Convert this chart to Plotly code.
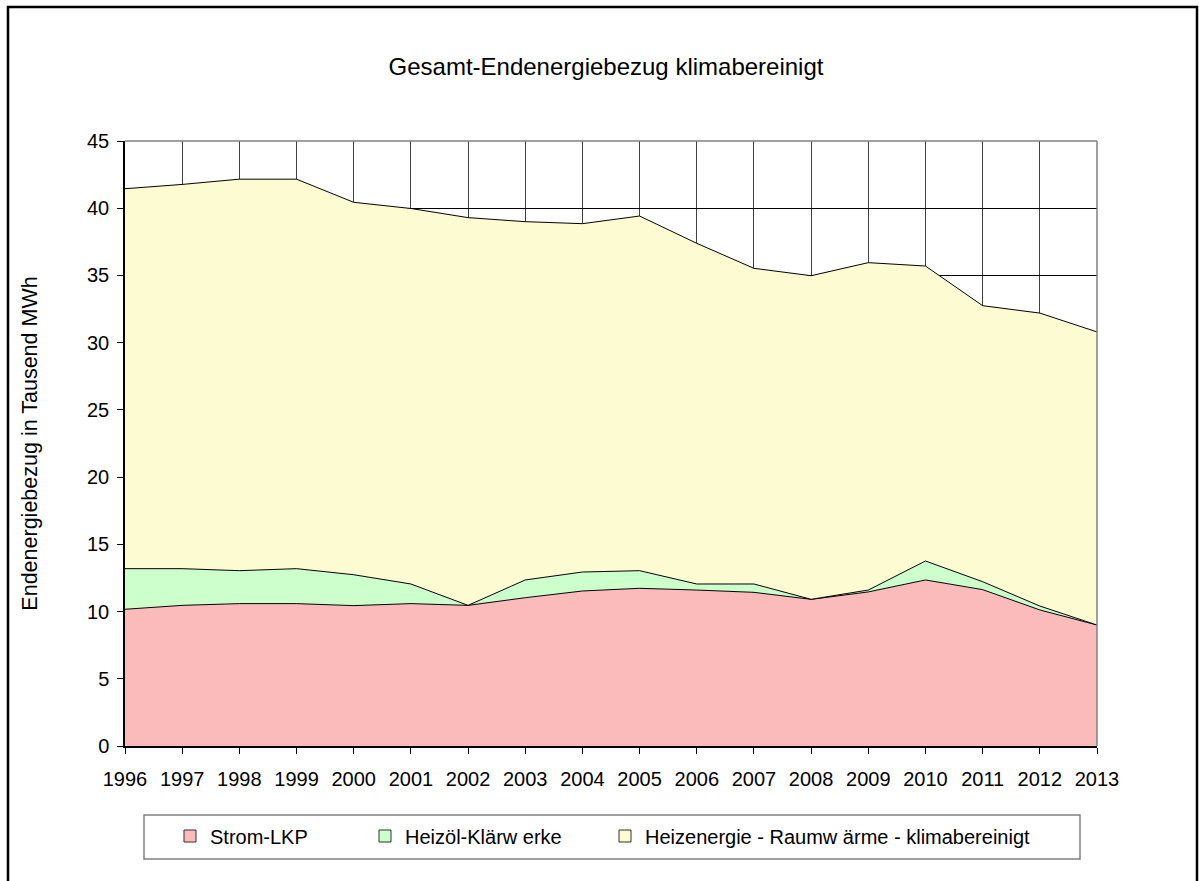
import plotly.graph_objects as go

years = list(range(1996, 2014))
strom = [10.17, 10.46, 10.59, 10.59, 10.44, 10.59, 10.46, 11.03, 11.53, 11.73,
         11.60, 11.43, 10.91, 11.46, 12.35, 11.63, 10.12, 9.00]
heizoel = [3.02, 2.73, 2.45, 2.60, 2.30, 1.46, 0.00, 1.32, 1.41, 1.31,
           0.45, 0.62, 0.00, 0.14, 1.41, 0.59, 0.29, 0.00]
heizenergie = [28.26, 28.58, 29.12, 28.97, 27.70, 27.93, 28.84, 26.65, 25.91, 26.38,
               25.34, 23.48, 24.07, 24.35, 21.94, 20.53, 21.79, 21.80]
names = ["Strom-LKP", "Heizöl-Klärw erke", "Heizenergie - Raumw ärme - klimabereinigt"]
colors = ["#FBBBBB", "#CCFFCC", "#FDFBD2"]
title = "Gesamt-Endenergiebezug klimabereinigt"
ytitle = "Endenergiebezug in Tausend MWh"

FONT = "Liberation Sans, Arial, sans-serif"
W, H = 1199, 881
# plot area in pixels
L, R, T, B = 125, 1097, 141, 746


def px(x):
    return (x - L) / (R - L)


def py(y):
    return (B - y) / (B - T)


fig = go.Figure()
for name, vals, col in zip(names, [strom, heizoel, heizenergie], colors):
    fig.add_trace(go.Scatter(
        x=years, y=vals, name=name, stackgroup="one", mode="lines",
        line=dict(color="black", width=1), fillcolor=col, showlegend=False,
        hoverinfo="x+y+name"))

legend_ids = ["legend", "legend2", "legend3"]
legend_centers = [189, 384, 624]
for name, col, lid in zip(names, colors, legend_ids):
    fig.add_trace(go.Scatter(
        x=[None], y=[None], name=name, mode="markers",
        marker=dict(symbol="square", size=12, color=col, line=dict(color="#333333", width=1)),
        legend=lid, showlegend=True))

legend_layout = {}
for lid, cx in zip(legend_ids, legend_centers):
    legend_layout[lid] = dict(
        x=px(cx - 19), y=py(836), xanchor="left", yanchor="middle",
        orientation="h", bgcolor="rgba(0,0,0,0)", borderwidth=0,
        font=dict(family=FONT, size=20, color="black"))

shapes = [
    # outer frame
    dict(type="rect", xref="paper", yref="paper", x0=px(8), x1=px(1197), y0=py(900), y1=py(7),
         line=dict(color="black", width=2.5), fillcolor="rgba(0,0,0,0)", layer="below"),
    # legend box
    dict(type="rect", xref="paper", yref="paper", x0=px(144), x1=px(1080), y0=py(859), y1=py(815),
         line=dict(color="#808080", width=1.5), fillcolor="rgba(0,0,0,0)", layer="below"),
    # top and right plot border
    dict(type="line", xref="paper", yref="paper", x0=0, x1=1, y0=1, y1=1,
         line=dict(color="#808080", width=1.5), layer="above"),
    dict(type="line", xref="paper", yref="paper", x0=1, x1=1, y0=0, y1=1,
         line=dict(color="#808080", width=1.5), layer="above"),
]

fig.update_layout(
    width=W, height=H,
    margin=dict(l=L, r=W - R, t=T, b=H - B, autoexpand=False),
    paper_bgcolor="white", plot_bgcolor="white",
    font=dict(family=FONT, size=20, color="black"),
    title=dict(text=title, x=606 / W, xanchor="center", y=1 - 67 / H,
               yanchor="middle", font=dict(family=FONT, size=24, color="black")),
    shapes=shapes,
    **legend_layout,
)
fig.update_xaxes(
    range=[1996, 2013], tickmode="array", tickvals=years, ticktext=[str(y) for y in years],
    showgrid=True, gridcolor="#404040", gridwidth=1,
    showline=True, linecolor="black", linewidth=1.5,
    ticks="outside", ticklen=6, tickcolor="black",
    tickfont=dict(family=FONT, size=20, color="black"), ticklabelstandoff=8,
    zeroline=False, fixedrange=True)
fig.update_yaxes(
    range=[0, 45], tickmode="linear", tick0=0, dtick=5,
    showgrid=True, gridcolor="black", gridwidth=1,
    showline=True, linecolor="black", linewidth=1.5,
    ticks="outside", ticklen=6, tickcolor="black",
    tickfont=dict(family=FONT, size=20, color="black"), ticklabelstandoff=4,
    title=dict(text=ytitle, standoff=43, font=dict(family=FONT, size=21.5, color="black")),
    zeroline=False, automargin=False, fixedrange=True)

fig.write_html(
    "out.html",
    config={"displayModeBar": False},
    post_script="document.body.style.margin='0';document.body.style.overflow='hidden';",
)
